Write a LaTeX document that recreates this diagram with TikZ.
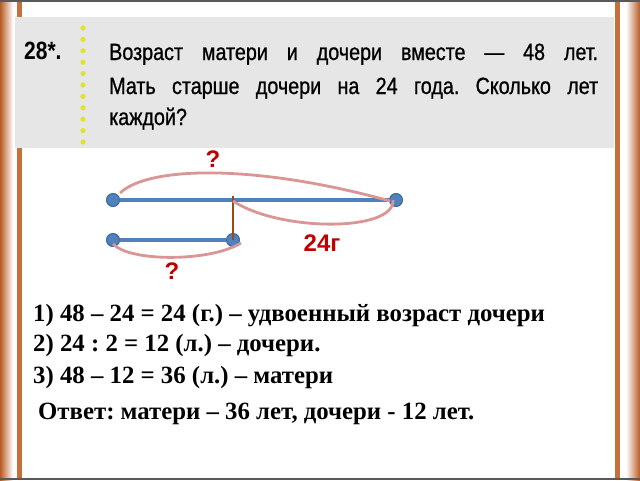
\documentclass[tikz,border=0pt]{standalone}
\usepackage{fontspec}
\setmainfont{Liberation Serif}
\newfontfamily\hdr[FakeStretch=0.84,FakeBold=0.8]{Liberation Sans}
\newfontfamily\hdrb[FakeStretch=0.84]{Liberation Sans Bold}
\newfontfamily\lbl{Liberation Sans}
\definecolor{frameor}{HTML}{C8703A}
\definecolor{framedk}{HTML}{B85A24}
\definecolor{boxgray}{HTML}{E6E6E6}
\definecolor{dotyel}{HTML}{E2E22A}
\definecolor{segblue}{HTML}{4F81BD}
\definecolor{segdark}{HTML}{3A679C}
\definecolor{arcpink}{HTML}{D99694}
\definecolor{redlbl}{HTML}{C00000}
\definecolor{brownln}{HTML}{9A4A12}
\tikzset{
  seg/.style={draw=segblue, line width=4.5pt},
  endpt/.style={circle, fill=segblue, draw=segdark, line width=1pt, minimum size=13pt, inner sep=0pt},
  arc/.style={draw=arcpink, line width=2.8pt},
  qlabel/.style={text=redlbl, font=\lbl\bfseries\fontsize{24}{26}\selectfont, inner sep=0pt},
  hline/.style={anchor=base west, inner sep=0pt, font=\hdr\fontsize{23.5}{26}\selectfont},
  sline/.style={anchor=base west, inner sep=0pt, font=\bfseries\fontsize{24.8}{27}\selectfont}
}
\begin{document}
\frenchspacing
\begin{tikzpicture}[x=1pt,y=-1pt]
\useasboundingbox (0,0) rectangle (640,480);
\fill[white] (0,0) rectangle (640,480);
% frame
\shade[left color=framedk, right color=white] (0,0) rectangle (13,480);
\fill[frameor] (17,0) rectangle (22,480);
\fill[frameor] (615,0) rectangle (620,480);
\shade[left color=white, right color=framedk] (626,0) rectangle (640,480);
\fill[black!65] (0,0) rectangle (640,2);
\fill[black!65] (0,477.5) rectangle (640,480);
% gray header box
\fill[boxgray] (15,17) rectangle (614,148);
\foreach \i in {0,...,10} \fill[dotyel] (83,28+11.4*\i) circle (2.6);
\node[anchor=base west, inner sep=0pt, font=\hdrb\fontsize{25}{27}\selectfont] (num) at (24,59) {28*.};
\node[hline] (t1) at (109,60) {\makebox[489pt][s]{Возраст матери и дочери вместе — 48 лет.}};
\node[hline] (t2) at (109,94) {\makebox[489pt][s]{Мать старше дочери на 24 года. Сколько лет}};
\node[hline] (t3) at (109,125) {каждой?};
% segments
\node[endpt] (a) at (113,200) {};
\node[endpt] (b) at (396,200) {};
\node[endpt] (c) at (113,240) {};
\node[endpt] (d) at (233,240) {};
\coordinate (m) at (233,196);
\draw[seg] (a) -- (b);
\draw[seg] (c) -- (d);
\draw[draw=brownln, line width=2.4pt] (m) -- (d.center);
% arcs
\coordinate (a1) at (120,193);
\coordinate (b1) at (390,201);
\coordinate (m1) at (233,201);
\coordinate (b2) at (393,200);
\coordinate (c1) at (113,244);
\coordinate (d1) at (241,243);
\draw[arc] (a1) .. controls (150,165) and (260,165) .. (b1);
\draw[arc] (m1) .. controls (280,232) and (395,232) .. (b2);
\draw[arc] (c1) .. controls (130,262) and (210,262) .. (d1);
\node[qlabel] (q1) at (213,159) {?};
\node[qlabel] (q2) at (322,243) {24г};
\node[qlabel] (q3) at (172,271) {?};
% solution
\node[sline] (s1) at (33,321) {1) 48 – 24 = 24 (г.) – удвоенный возраст дочери};
\node[sline] (s2) at (33,351) {2) 24 : 2 = 12 (л.) – дочери.};
\node[sline] (s3) at (33,383) {3) 48 – 12 = 36 (л.) – матери};
\node[sline] (s4) at (38,419) {Ответ: матери – 36 лет, дочери - 12 лет.};
\end{tikzpicture}
\end{document}
